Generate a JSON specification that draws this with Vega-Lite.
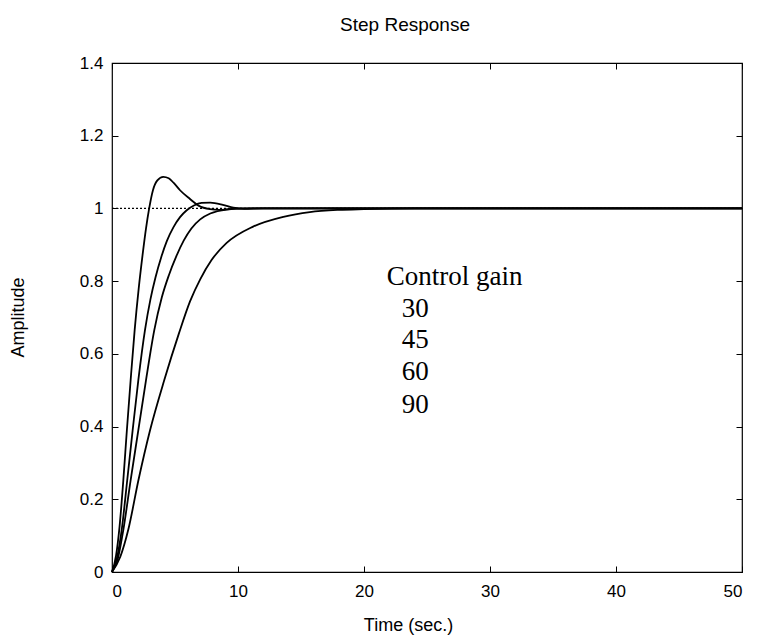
{
  "$schema": "https://vega.github.io/schema/vega-lite/v6.json",
  "width": 630,
  "height": 509,
  "autosize": "none",
  "padding": {"left": 112, "top": 63, "right": 16, "bottom": 67},
  "background": "white",
  "config": {
    "view": {"stroke": "black", "strokeWidth": 1.2},
    "font": "Liberation Sans",
    "axis": {
      "grid": false,
      "domain": false,
      "tickColor": "black",
      "tickSize": -6,
      "tickWidth": 1,
      "labelFont": "Liberation Sans",
      "labelFontSize": 17,
      "labelColor": "black",
      "titleFont": "Liberation Sans",
      "titleFontSize": 18,
      "titleFontWeight": "normal",
      "titleColor": "black"
    }
  },
  "title": {
    "text": "Step Response",
    "font": "Liberation Sans",
    "fontSize": 19,
    "fontWeight": "normal",
    "color": "black",
    "dx": -22,
    "offset": 19
  },
  "datasets": {
    "curves": [
      {"gain": 90, "t": 0, "amp": 0},
      {"gain": 90, "t": 0.32, "amp": 0.045},
      {"gain": 90, "t": 0.6, "amp": 0.125},
      {"gain": 90, "t": 0.9, "amp": 0.253},
      {"gain": 90, "t": 1.18, "amp": 0.39},
      {"gain": 90, "t": 1.48, "amp": 0.528},
      {"gain": 90, "t": 1.8, "amp": 0.666},
      {"gain": 90, "t": 2.12, "amp": 0.78},
      {"gain": 90, "t": 2.42, "amp": 0.87},
      {"gain": 90, "t": 2.7, "amp": 0.945},
      {"gain": 90, "t": 2.95, "amp": 1.0},
      {"gain": 90, "t": 3.25, "amp": 1.05},
      {"gain": 90, "t": 3.6, "amp": 1.077},
      {"gain": 90, "t": 4.07, "amp": 1.087},
      {"gain": 90, "t": 4.5, "amp": 1.083},
      {"gain": 90, "t": 4.9, "amp": 1.07},
      {"gain": 90, "t": 5.4, "amp": 1.05},
      {"gain": 90, "t": 6.19, "amp": 1.026},
      {"gain": 90, "t": 6.9, "amp": 1.007},
      {"gain": 90, "t": 7.78, "amp": 0.998},
      {"gain": 90, "t": 8.5, "amp": 0.996},
      {"gain": 90, "t": 9.5, "amp": 0.999},
      {"gain": 90, "t": 11, "amp": 1.0},
      {"gain": 90, "t": 50, "amp": 1.0},
      {"gain": 60, "t": 0, "amp": 0},
      {"gain": 60, "t": 0.4, "amp": 0.04},
      {"gain": 60, "t": 0.77, "amp": 0.116},
      {"gain": 60, "t": 1.21, "amp": 0.253},
      {"gain": 60, "t": 1.64, "amp": 0.39},
      {"gain": 60, "t": 2.09, "amp": 0.528},
      {"gain": 60, "t": 2.62, "amp": 0.666},
      {"gain": 60, "t": 3.05, "amp": 0.75},
      {"gain": 60, "t": 3.45, "amp": 0.81},
      {"gain": 60, "t": 3.9, "amp": 0.865},
      {"gain": 60, "t": 4.35, "amp": 0.91},
      {"gain": 60, "t": 4.87, "amp": 0.948},
      {"gain": 60, "t": 5.4, "amp": 0.976},
      {"gain": 60, "t": 5.93, "amp": 0.995},
      {"gain": 60, "t": 6.5, "amp": 1.008},
      {"gain": 60, "t": 7.1, "amp": 1.015},
      {"gain": 60, "t": 7.8, "amp": 1.016},
      {"gain": 60, "t": 8.8, "amp": 1.01},
      {"gain": 60, "t": 9.63, "amp": 1.002},
      {"gain": 60, "t": 10.5, "amp": 0.999},
      {"gain": 60, "t": 12, "amp": 1.0},
      {"gain": 60, "t": 50, "amp": 1.0},
      {"gain": 45, "t": 0, "amp": 0},
      {"gain": 45, "t": 0.45, "amp": 0.035},
      {"gain": 45, "t": 0.9, "amp": 0.116},
      {"gain": 45, "t": 1.48, "amp": 0.253},
      {"gain": 45, "t": 2.09, "amp": 0.39},
      {"gain": 45, "t": 2.7, "amp": 0.528},
      {"gain": 45, "t": 3.36, "amp": 0.666},
      {"gain": 45, "t": 3.95, "amp": 0.755},
      {"gain": 45, "t": 4.5, "amp": 0.815},
      {"gain": 45, "t": 5.1, "amp": 0.868},
      {"gain": 45, "t": 5.7, "amp": 0.912},
      {"gain": 45, "t": 6.3, "amp": 0.945},
      {"gain": 45, "t": 7.0, "amp": 0.97},
      {"gain": 45, "t": 7.8, "amp": 0.986},
      {"gain": 45, "t": 9.1, "amp": 0.997},
      {"gain": 45, "t": 10.5, "amp": 1.0},
      {"gain": 45, "t": 50, "amp": 1.0},
      {"gain": 30, "t": 0, "amp": 0},
      {"gain": 30, "t": 0.66, "amp": 0.042},
      {"gain": 30, "t": 1.29, "amp": 0.116},
      {"gain": 30, "t": 2.1, "amp": 0.253},
      {"gain": 30, "t": 3.02, "amp": 0.39},
      {"gain": 30, "t": 4.15, "amp": 0.528},
      {"gain": 30, "t": 5.3, "amp": 0.655},
      {"gain": 30, "t": 6.2, "amp": 0.745},
      {"gain": 30, "t": 7.0, "amp": 0.805},
      {"gain": 30, "t": 7.9, "amp": 0.858},
      {"gain": 30, "t": 9.1, "amp": 0.905},
      {"gain": 30, "t": 11.2, "amp": 0.95},
      {"gain": 30, "t": 13.6, "amp": 0.977},
      {"gain": 30, "t": 15.7, "amp": 0.99},
      {"gain": 30, "t": 18, "amp": 0.996},
      {"gain": 30, "t": 20, "amp": 0.998},
      {"gain": 30, "t": 24, "amp": 1.0},
      {"gain": 30, "t": 50, "amp": 1.0}
    ],
    "legend": [
      {"label": "Control gain", "x": 21.8, "y": 0.789},
      {"label": "30", "x": 23.0, "y": 0.701},
      {"label": "45", "x": 23.0, "y": 0.616},
      {"label": "60", "x": 23.0, "y": 0.528},
      {"label": "90", "x": 23.0, "y": 0.437}
    ],
    "ref": [
      {"x0": 0, "x1": 50, "y": 1}
    ]
  },
  "layer": [
    {
      "data": {"name": "ref"},
      "mark": {"type": "rule", "stroke": "black", "strokeWidth": 1.2, "strokeDash": [2, 2]},
      "encoding": {
        "x": {
          "field": "x0", "type": "quantitative",
          "scale": {"domain": [0, 50], "nice": false, "zero": false},
          "axis": {"orient": "top", "labels": false, "title": null, "values": [0, 10, 20, 30, 40, 50]}
        },
        "x2": {"field": "x1"},
        "y": {
          "field": "y", "type": "quantitative",
          "scale": {"domain": [0, 1.4], "nice": false, "zero": false},
          "axis": {"orient": "right", "labels": false, "title": null, "values": [0, 0.2, 0.4, 0.6, 0.8, 1, 1.2, 1.4]}
        }
      }
    },
    {
      "data": {"name": "curves"},
      "mark": {"type": "line", "stroke": "black", "strokeWidth": 1.8, "interpolate": "monotone"},
      "encoding": {
        "x": {
          "field": "t", "type": "quantitative",
          "axis": {
            "orient": "bottom", "title": "Time (sec.)",
            "values": [0, 10, 20, 30, 40, 50], "format": "d",
            "labelPadding": 17,
            "titleX": 296, "titleY": 53, "titleBaseline": "middle"
          }
        },
        "y": {
          "field": "amp", "type": "quantitative",
          "axis": {
            "orient": "left", "title": "Amplitude",
            "values": [0, 0.2, 0.4, 0.6, 0.8, 1, 1.2, 1.4], "format": "~g",
            "labelPadding": 15,
            "titleX": -94, "titleY": 254, "titleBaseline": "middle", "titleAngle": -90
          }
        },
        "detail": {"field": "gain", "type": "nominal"},
        "order": {"field": "t", "type": "quantitative"}
      }
    },
    {
      "data": {"name": "legend"},
      "mark": {"type": "text", "font": "Liberation Serif", "fontSize": 27, "align": "left", "baseline": "alphabetic", "color": "black"},
      "encoding": {
        "x": {"field": "x", "type": "quantitative", "axis": null},
        "y": {"field": "y", "type": "quantitative", "axis": null},
        "text": {"field": "label"}
      }
    }
  ],
  "resolve": {"axis": {"x": "independent", "y": "independent"}}
}
